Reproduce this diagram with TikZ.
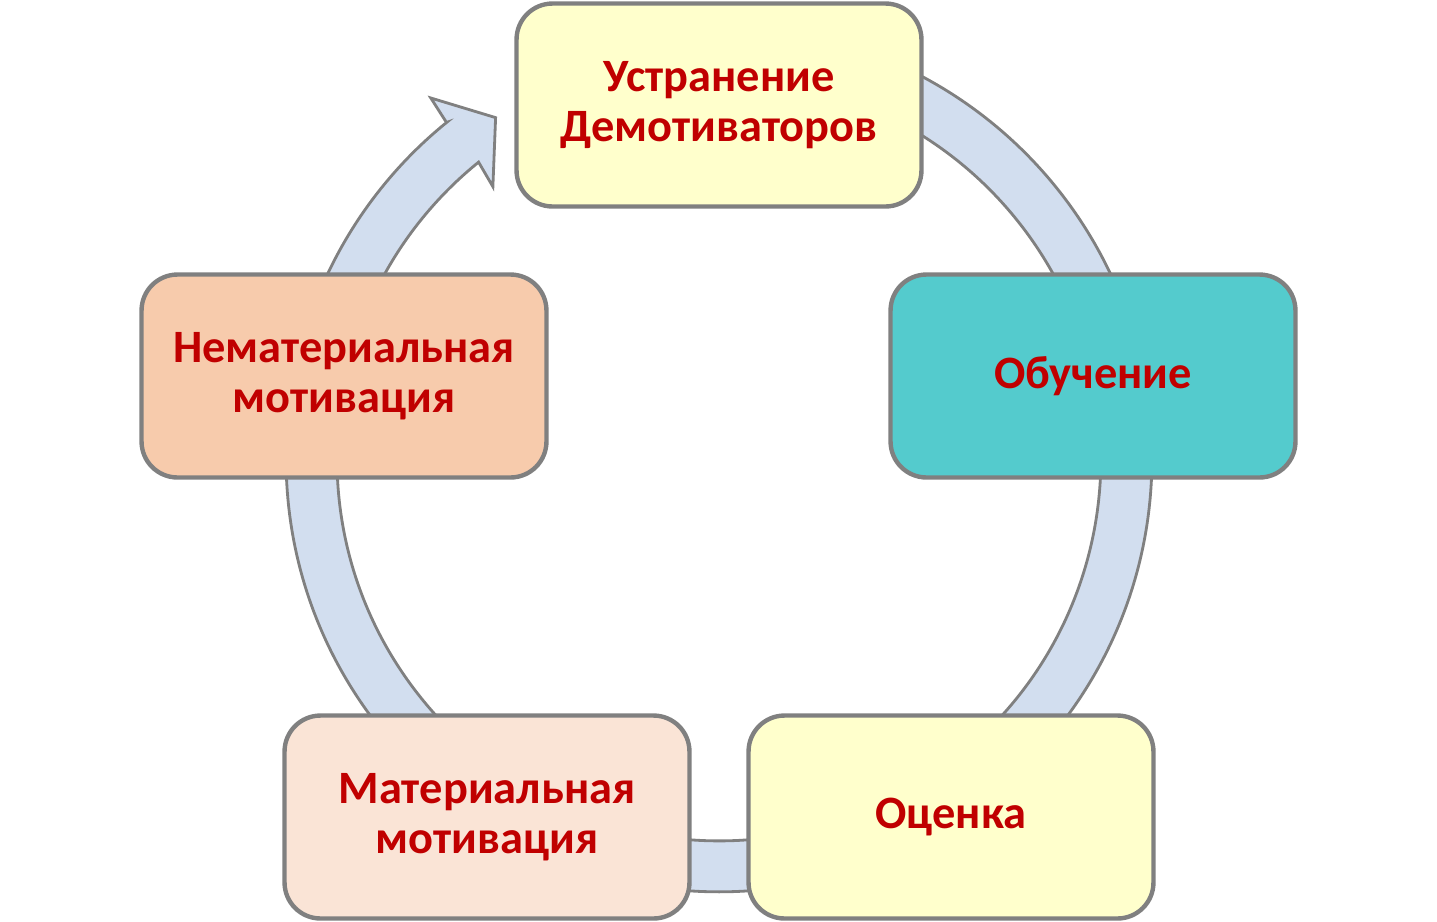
\documentclass[tikz,border=0pt]{standalone}
\usepackage{fontspec}
\usetikzlibrary{calc}
\setmainfont{Carlito}
\definecolor{ringfill}{HTML}{D2DEEF}
\definecolor{edgegray}{HTML}{808080}
\definecolor{txtred}{HTML}{C00000}
\definecolor{cyellow}{HTML}{FFFFCC}
\definecolor{cteal}{HTML}{54CBCD}
\definecolor{cpeach}{HTML}{F7CBAC}
\definecolor{clpeach}{HTML}{FAE4D6}
\begin{document}
\begin{tikzpicture}[x=0.02cm,y=0.02cm,
  stepbox/.style={draw=edgegray, line width=2.5pt, rounded corners=0.72cm,
    minimum width=8.1cm, minimum height=4.06cm, align=center,
    text=txtred, font=\fontsize{26.4}{28.8}\selectfont\bfseries, inner sep=0pt},
  ring/.style={draw=edgegray, fill=ringfill, line width=1.6pt, line join=miter}]
\useasboundingbox (0,0) rectangle (1437,-921);
\coordinate (c) at (719,-459);
% ring arrow
\draw[ring] ($(c)+(129:433)$) -- ($(c)+(128.6:462)$) -- ($(c)+(123.2:408)$)
  -- ($(c)+(129.7:354)$) -- ($(c)+(129:382)$)
  arc[start angle=129, end angle=450, radius=7.64cm]
  -- ($(c)+(90:433)$)
  arc[start angle=90, end angle=-231, radius=8.66cm] -- cycle;
% boxes
\node[stepbox, fill=cyellow] (top) at (719,-105) {Устранение\\Демотиваторов};
\node[stepbox, fill=cteal] (right) at (1093,-376) {Обучение};
\node[stepbox, fill=cyellow] (br) at (951,-817) {Оценка};
\node[stepbox, fill=clpeach] (bl) at (487,-817) {Материальная\\мотивация};
\node[stepbox, fill=cpeach] (left) at (344,-376) {Нематериальная\\мотивация};
\end{tikzpicture}
\end{document}
